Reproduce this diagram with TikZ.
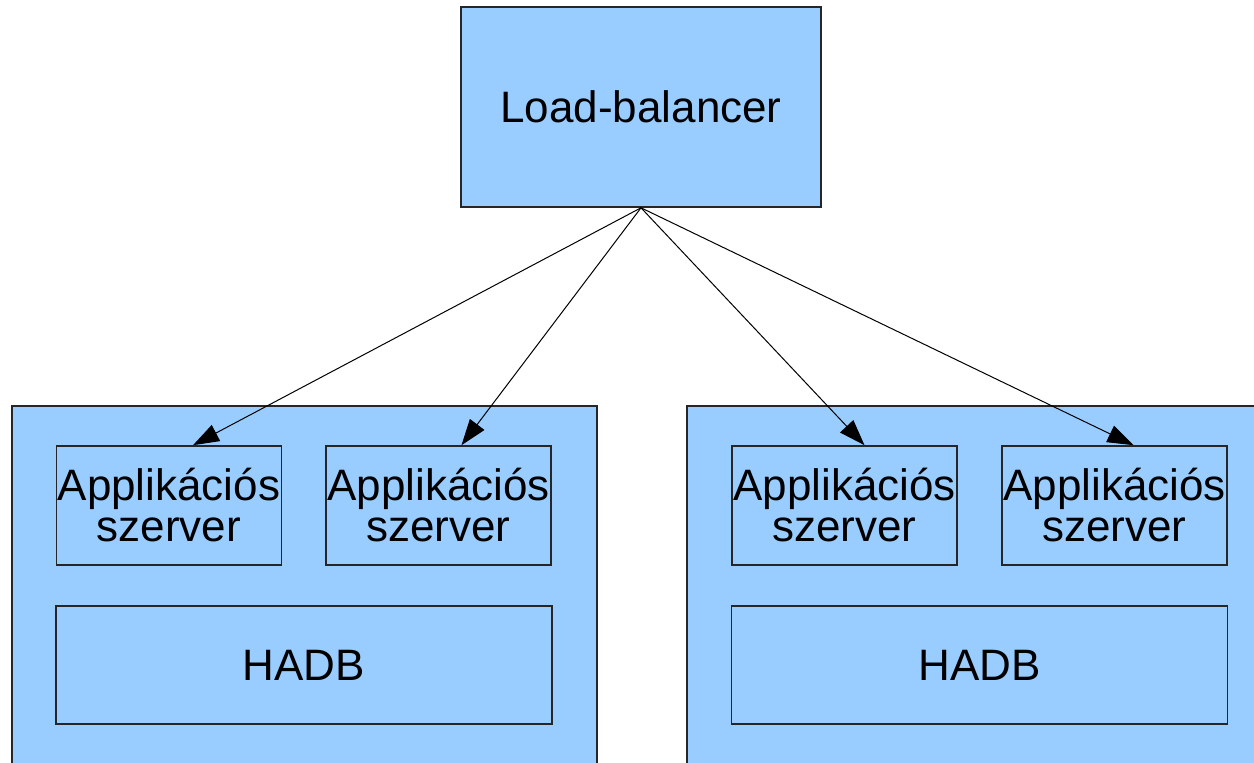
\documentclass[tikz,border=0pt]{standalone}
\usepackage{fontspec}
\setmainfont{Liberation Sans}
\usetikzlibrary{arrows.meta}

\definecolor{boxblue}{HTML}{99CCFF}

\begin{document}
\begin{tikzpicture}[x=0.5pt, y=0.5pt,
	box/.style = {draw=black!85, fill=boxblue, line width=0.8pt},
	label/.style = {font=\fontsize{22}{20.5}\selectfont, align=center, inner sep=0pt},
	appbox/.style = {box, label, minimum width=112.5pt, minimum height=59.5pt},
	dbbox/.style = {box, label, minimum width=248pt, minimum height=59pt},
	link/.style = {line width=0.5pt, -{Triangle[length=13pt, width=9pt]}}
]
	\def\W{1254};
	\def\H{762};

	\useasboundingbox (0,0) rectangle (\W,\H);
	\clip (0,0) rectangle (\W,\H);

	% the two hosts run off the bottom edge
	\draw [box] (12,356) rectangle (597,-20);
	\draw [box] (687,356) rectangle (\W + 20,-20);

	\node [box, label, minimum width=180pt, minimum height=100pt] (lb) at (641,655) {Load-balancer};

	\node [appbox] (appA) at (169,256.5) {Applikációs\\szerver};
	\node [appbox] (appB) at (438.5,256.5) {Applikációs\\szerver};
	\node [appbox] (appC) at (844.5,256.5) {Applikációs\\szerver};
	\node [appbox] (appD) at (1114.5,256.5) {Applikációs\\szerver};

	\node [dbbox] (dbL) at (304,97) {HADB};
	\node [dbbox] (dbR) at (979.5,97) {HADB};

	\foreach \app/\dx in {appA/12, appB/11.5, appC/10, appD/9.5}
		\draw [link] (lb.south) -- ([xshift=\dx pt]\app.north);
\end{tikzpicture}
\end{document}
